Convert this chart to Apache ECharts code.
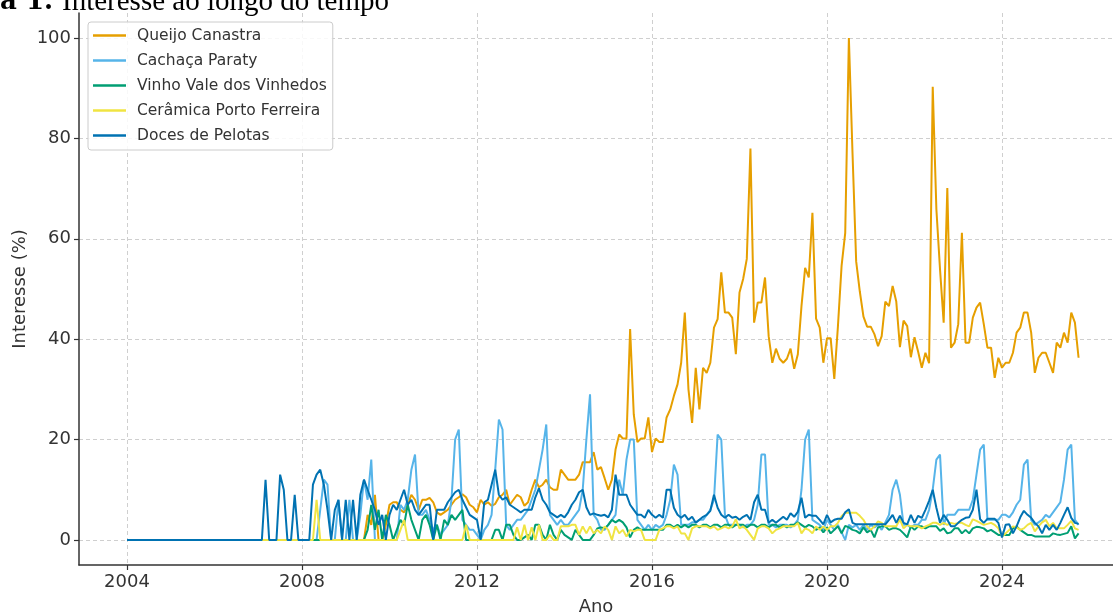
<!DOCTYPE html>
<html>
<head>
<meta charset="utf-8" />
<title>Interesse ao longo do tempo</title>
<script src="https://cdn.jsdelivr.net/npm/echarts@6.0.0/dist/echarts.min.js"></script>
<style>
  html, body { margin: 0; padding: 0; background: #fff; }
  #chart { width: 1113px; height: 613px; }
</style>
</head>
<body>
<div id="chart"></div>
<script>
// valores mensais, jan/2004 .. out/2025 (uma linha por ano)
var seriesNames = ['Queijo Canastra', 'Cachaça Paraty', 'Vinho Vale dos Vinhedos', 'Cerâmica Porto Ferreira', 'Doces de Pelotas'];
var seriesColors = ['#E69F00', '#56B4E9', '#009E73', '#F0E442', '#0072B2'];
var startYear = 2004;
var yearTicks = [2004, 2008, 2012, 2016, 2020, 2024];
var valueTicks = [0, 20, 40, 60, 80, 100];

var queijo = [
  0,0,0,0,0,0,0,0,0,0,0,0,
  0,0,0,0,0,0,0,0,0,0,0,0,
  0,0,0,0,0,0,0,0,0,0,0,0,
  0,0,0,0,0,0,0,0,0,0,0,0,
  0,0,0,0,0,0,0,0,0,0,0,0,
  0,0,0,0,0,0,5,3,9,0,0,3,
  7,7.5,7.5,6,5.5,7,9,8,6,8,8,8.4,
  7.5,5.5,5,5.5,6,7,8,8.5,9.1,8.5,7,6.5,
  5.5,8,7,7.5,6.8,7.2,8.5,9,10,7,8,9,
  8.5,6.8,7.5,10,12,10.5,11,12,10.5,10,10,14,
  13,12,12,12,13,15.5,15.5,15.5,17.5,14,14.5,12.3,
  10,12,18,21,20.2,20.2,42,25,19.5,20.2,20.2,24.4,
  17.5,20.2,19.5,19.5,24.4,26,28.7,31,35.3,45.3,30,23.3,
  34.3,26,34.3,33.3,35.3,42.3,44,53.3,45.3,45.3,44.3,37,
  49.3,52,56,78,43.3,47.3,47.3,52.3,40.6,35.3,38.1,36.1,
  35.3,36.1,38.1,34.1,37,46.6,54.2,52.3,65.2,44.1,42.3,35.3,
  40.2,40.2,32.1,42.6,54.6,61.2,100,77,55.5,49.5,44.5,42.5,
  42.5,41,38.6,40.6,47.5,46.6,50.6,47.5,38.4,43.7,42.6,36.4,
  40.4,37.5,34.3,37.3,35.2,90.3,65.9,53.9,43.3,70.1,38.3,39.3,
  43,61.2,39.3,39.3,44.3,46.3,47.3,43,38.3,38.3,32.3,36.3,
  34.3,35.3,35.3,37.3,41.3,42.3,45.3,45.3,41.3,33.3,36.3,37.3,
  37.3,35.3,33.3,39.3,38.3,41.3,39.3,45.3,43.3,36.3
];

var cachaca = [
  0,0,0,0,0,0,0,0,0,0,0,0,
  0,0,0,0,0,0,0,0,0,0,0,0,
  0,0,0,0,0,0,0,0,0,0,0,0,
  0,0,0,0,0,0,0,0,0,0,0,0,
  0,0,0,0,0,6,12,11,0,0,8,0,
  0,8,0,0,5,12,8,16,0,0,0,0,
  0,0,0,7,6,8,14,17,5,5,6,4,
  2,3,1,2,3,8,20,22,4,3,2,2,
  1,0,2,3,5,14,24,22,3,2,3,4,
  4,5,6,8,10,14,18,23,5,4,3,4,
  3,3,4,5,6,10,20,29,5,4,2,2,
  3,4,5,12,9,16,20,20,4,3,2,3,
  2,3,2.5,3,5,8,15,13,3,3,3,3.5,
  3.5,4,4,5,6,8,21,20,5,3,3,3,
  3,2.5,3,3,4,7,17,17,3,3,2.5,3,
  3,3,2.5,3,4,10,20,22,4,3.5,3,2,
  4,3,2,3,1.5,0,3,2.5,3,2,3,2,
  3,2.5,3,2,3.5,5,10,12,9,3,3,2.5,
  3,3,4,4,6,10,16,17,3,5,5,5,
  6,6,6,6,8,13,18,19,4,4,4,4,
  5,5,4.5,5.5,7,8,15,16,4,3,3.5,4,
  5,4.5,5.5,6.5,7.5,12,18,19,4,3
];

var vinho = [
  0,0,0,0,0,0,0,0,0,0,0,0,
  0,0,0,0,0,0,0,0,0,0,0,0,
  0,0,0,0,0,0,0,0,0,0,0,0,
  0,0,0,0,0,0,0,0,0,0,0,0,
  0,0,0,0,0,0,0,0,0,0,0,0,
  0,0,0,0,0,0,2,7,2,6,0,5,
  3,0,2,4,3,7,4,2,0,4,5,3,
  0,3,0,4,3,5,4,5,6,0,0,0,
  0,0,0,0,0,2,2,0,3,3,1,0,
  0,0.5,1,0,3,3,1,0,3,1,0,2,
  1,0.5,0,2,1,0,0,0,1,2.3,2.5,2.3,
  3,4,3.5,4,3.5,2.5,0.5,2,2.5,2,2,2,
  2,2,2,2,3,3,2.5,3,2.5,3,2.5,3,
  3,2.5,3,3,2.5,3,3,2.5,3,3,2.5,3,
  3,3,2.5,3,3,2.5,3,3,2.5,3,3,2.5,
  3,2.5,3,3,3.5,3,2.5,3,2.7,2,2.5,1.5,
  2.5,1.3,2,2.7,1.3,2.8,2.5,2,1.8,1.3,2.5,1.5,
  2,0.5,2.5,2.7,2.7,2,2.3,2.3,2,1.3,0.5,2.7,
  2,2.7,2.7,2.3,2.7,2.7,2.7,1.8,2.3,1.3,1.5,2.3,
  2.3,1.3,2,1.3,2.3,2.6,2.5,2.3,1.7,2,1.5,1,
  1,1,1,2.3,2.7,2,1.5,1,1,0.7,0.7,0.7,
  0.7,0.7,1.3,1.1,1,1.2,1.4,2.7,0.3,1.3
];

var ceramica = [
  0,0,0,0,0,0,0,0,0,0,0,0,
  0,0,0,0,0,0,0,0,0,0,0,0,
  0,0,0,0,0,0,0,0,0,0,0,0,
  0,0,0,0,0,0,0,0,0,0,0,0,
  0,0,0,0,8,0,0,0,0,0,0,0,
  0,0,0,0,0,0,0,0,0,0,0,0,
  0,0,0,2,4,0,0,0,0,0,0,0,
  0,0,0,0,0,0,0,0,0,3,0,0,
  0,0,0,0,0,0,0,0,0,0,0,2.5,
  0,3,0,2.5,0,3,0,0,1,0,0,2.7,
  2.7,2.7,3,3,1,2.7,1.3,2.7,1.3,2,1.3,2.7,
  2,0,2.7,1.3,2,0.7,2,1.7,2,2,0,0,
  0,0,2,2.3,2.7,2.7,2.3,2.7,1.3,1.3,0,2.3,
  2.7,2.7,2.7,2.7,2.3,2.7,2,2.3,2.7,2.3,2.7,4.1,
  2.3,2.7,2,1,0,2.3,2.7,2.7,2.3,1.3,2,2.3,
  2.7,2.7,2.7,2.7,3.4,1.3,2.3,2,1.3,2.7,2,2.7,
  2,2.7,2.7,3.4,4.7,5.4,5.4,5.4,5.4,4.8,4,2.7,
  2,2.7,3.7,3.4,2.7,2.7,2.7,2.7,4.1,2.3,3,2.7,
  2.7,2.7,2.3,2.7,3,3.4,3.4,3,3.4,3,3.4,3.2,
  3.4,3.4,3,2.7,4.1,3.8,3.4,3,3.2,3.4,3,2.3,
  0.7,1.3,2,2.7,2.5,2,2.3,3,3.4,1.7,2.7,3.5,
  4,2.7,3.4,2.3,2.3,2.3,3,3.8,2.3,2
];

var doces = [
  0,0,0,0,0,0,0,0,0,0,0,0,
  0,0,0,0,0,0,0,0,0,0,0,0,
  0,0,0,0,0,0,0,0,0,0,0,0,
  0,0,12,0,0,0,13,10,0,0,9,0,
  0,0,0,11,13,14,11,6,0,6,8,0,
  8,0,8,0,9,12,10,8,6,3,5,0,
  5,7,6,8,10,7,8,6,5,6,7,7,
  0,6,6,6,7.5,8.5,9.5,10,8,6.5,5,4.5,
  4,0,7.5,8,11,14,9,8,8.5,7,6.5,6,
  5.5,6,6,6,8.5,10.3,8,7,5.5,5,4.5,5,
  4.5,5.5,7,8,9.5,10,6.5,5,5.3,5,4.8,5,
  4.5,6,13,9,9,9,7,6,5,5,4.4,6,
  5,4.4,5,4.4,10,10,6.4,5,4.4,5,4,4.6,
  3.4,4,4.6,5,5.8,9,6.4,5,4.4,5,4.4,4.6,
  4,4.6,5,4,7.5,9,6,6,3.4,4,3.4,4,
  4.6,4,5.3,4.6,5.6,8.4,4.4,5,4.8,4.8,4,3.1,
  5,3.5,4,4.2,4.2,5.5,6.1,3.4,3.1,3.1,3.1,3.1,
  3.1,3.1,3.1,3.1,3.1,4,5,3.4,4.8,3.4,3.1,5,
  3.4,4.8,4.4,6,7.8,10,6.4,3.4,5,4,2.7,2.7,
  3.4,4,4.4,4.5,6,10,4.1,3.4,4.2,4.2,4.2,3.4,
  0.5,3,3.1,1.3,2.7,4.5,5.8,5,4.4,3.4,2.7,1.3,
  3,2,3,2,3.4,5,6.5,4.4,3.4,3.2
];

var allValues = [queijo, cachaca, vinho, ceramica, doces];

// cada ponto fica na posição do mês (ano + mês/12)
function toPoints(vals) {
  return vals.map(function (v, i) {
    return [startYear + i / 12, v];
  });
}

var chart = echarts.init(document.getElementById('chart'), null, { renderer: 'canvas' });

var textColor = '#333';
var gridLine = { show: true, lineStyle: { color: '#cfcfcf', type: [4, 3], width: 1 } };

var option = {
  animation: false,
  backgroundColor: '#fff',
  textStyle: { fontFamily: 'DejaVu Sans' },
  graphic: [
    {
      type: 'text', x: 0, y: 2,
      style: { text: 'a 1.', textAlign: 'left', verticalAlign: 'middle',
        font: 'bold 26px "DejaVu Serif"', fill: '#000' }
    },
    {
      type: 'text', x: 62, y: 2,
      style: { text: 'Interesse ao longo do tempo', textAlign: 'left', verticalAlign: 'middle',
        font: '29px "Liberation Serif"', fill: '#000' }
    }
  ],
  legend: {
    orient: 'vertical',
    left: 88, top: 22,
    padding: [5, 6, 6, 5],
    itemWidth: 33, itemHeight: 2.5, itemGap: 8,
    icon: 'rect',
    backgroundColor: 'rgba(255,255,255,0.85)',
    borderColor: '#cccccc', borderWidth: 1, borderRadius: 3,
    textStyle: { fontSize: 15.5, color: textColor, fontFamily: 'DejaVu Sans', lineHeight: 17, padding: [0, 0, 0, 6] },
    data: seriesNames
  },
  grid: { left: 79, top: 13, right: 0, height: 552, outerBoundsMode: 'none', containLabel: false },
  xAxis: {
    type: 'value',
    min: 2002.903, max: 2026.537,
    name: 'Ano', nameLocation: 'middle', nameGap: 33,
    nameTextStyle: { fontSize: 18, color: textColor, fontFamily: 'DejaVu Sans' },
    axisLine: { onZero: false, lineStyle: { color: '#333', width: 1.5 } },
    axisTick: { show: true, length: 5, customValues: yearTicks, lineStyle: { color: '#333', width: 1.2 } },
    axisLabel: {
      customValues: yearTicks, margin: 8, fontSize: 18, color: textColor, fontFamily: 'DejaVu Sans',
      formatter: function (v) { return String(Math.round(v)); }
    },
    splitLine: gridLine
  },
  yAxis: {
    type: 'value',
    min: -5, max: 105,
    name: 'Interesse (%)', nameLocation: 'middle', nameGap: 50, nameRotate: 90,
    nameMoveOverlap: false,
    nameTextStyle: { fontSize: 18, color: textColor, fontFamily: 'DejaVu Sans' },
    axisLine: { show: true, onZero: false, lineStyle: { color: '#333', width: 1.5 } },
    axisTick: { show: true, length: 5, customValues: valueTicks, lineStyle: { color: '#333', width: 1.2 } },
    axisLabel: { customValues: valueTicks, margin: 8, fontSize: 18, color: textColor, fontFamily: 'DejaVu Sans' },
    splitLine: gridLine
  },
  series: seriesNames.map(function (name, k) {
    return {
      name: name,
      type: 'line',
      data: toPoints(allValues[k]),
      showSymbol: false,
      symbol: 'none',
      color: seriesColors[k],
      lineStyle: { color: seriesColors[k], width: 2 },
      emphasis: { disabled: true }
    };
  })
};

chart.setOption(option);
window.onresize = function () { chart.resize(); };
</script>
</body>
</html>
